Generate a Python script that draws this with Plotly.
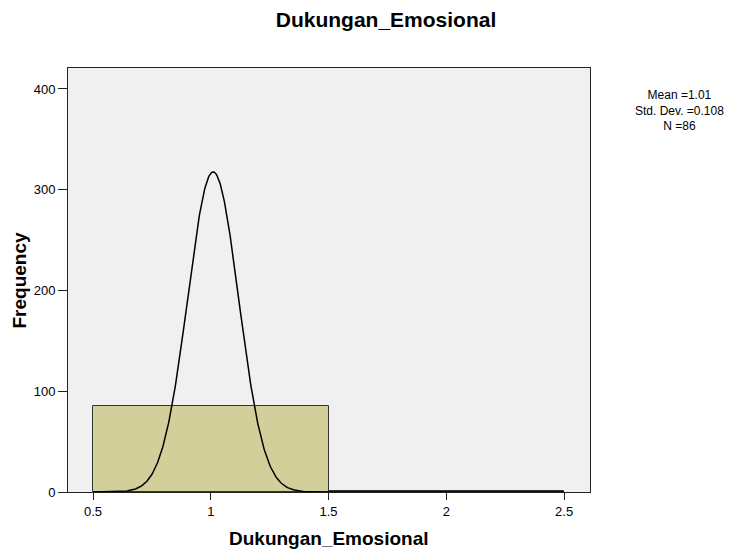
import numpy as np
import plotly.graph_objects as go

bin_centers = [1.0, 2.0]
counts = [85, 1]
bin_width = 1.0
mean_val = 1.01
std_val = 0.108
n_val = 86
x_ticks = [0.5, 1, 1.5, 2, 2.5]
x_tick_labels = ["0.5", "1", "1.5", "2", "2.5"]
y_ticks = [0, 100, 200, 300, 400]
stats_lines = ["Mean =1.01", "Std. Dev. =0.108", "N =86"]
title_text = "Dukungan_Emosional"
x_title = "Dukungan_Emosional"
y_title = "Frequency"

FONT = "Liberation Sans, Arial, sans-serif"

fig = go.Figure()
fig.add_trace(go.Bar(
    x=bin_centers, y=counts, width=[bin_width] * len(counts),
    marker=dict(color="#D3CF9B", line=dict(color="#333333", width=1)),
    hoverinfo="skip", showlegend=False,
))
xs = np.linspace(0.5, 2.5, 800)
ys = n_val * bin_width / (std_val * np.sqrt(2 * np.pi)) * np.exp(-0.5 * ((xs - mean_val) / std_val) ** 2)
fig.add_trace(go.Scatter(x=xs, y=ys, mode="lines", line=dict(color="black", width=1.5),
                         showlegend=False, hoverinfo="skip"))

# page has an 8px body margin; plot area in page coords: x 68..590, y 68..492
annotations = [
    dict(text="<b>%s</b>" % x_title, xref="paper", yref="paper", x=0.5, y=-0.1085,
         xanchor="center", yanchor="middle", showarrow=False, font=dict(size=19)),
    dict(text="<b>%s</b>" % y_title, xref="paper", yref="paper", x=-0.0948, y=0.5,
         xanchor="center", yanchor="middle", showarrow=False, textangle=-90, font=dict(size=19)),
    dict(text="<br>".join(stats_lines), xref="paper", yref="paper", x=1.1724, y=0.9009,
         xanchor="center", yanchor="middle", showarrow=False, align="center",
         font=dict(size=12)),
]

fig.update_layout(
    width=739, height=556,
    margin=dict(l=60, r=157, t=60, b=72),
    paper_bgcolor="white", plot_bgcolor="#F0F0F0",
    font=dict(family=FONT, color="black"),
    title=dict(text="<b>%s</b>" % title_text, xref="container", x=378 / 739, xanchor="center",
               y=1 - 12 / 556, yanchor="middle", font=dict(size=21)),
    bargap=0,
    xaxis=dict(range=[0.3938, 2.610], tickvals=x_ticks, ticktext=x_tick_labels, ticks="outside",
               ticklen=7, tickcolor="#222222", showgrid=False, zeroline=False, showline=True,
               linecolor="#222222", linewidth=1, mirror=True, tickfont=dict(size=13)),
    yaxis=dict(range=[0, 420.8], tickvals=y_ticks, ticks="outside", ticklen=9, tickcolor="#222222",
               showgrid=False, zeroline=False, showline=True, linecolor="#222222", linewidth=1,
               mirror=True, tickfont=dict(size=13)),
    annotations=annotations,
)
fig.write_html("out.html")
